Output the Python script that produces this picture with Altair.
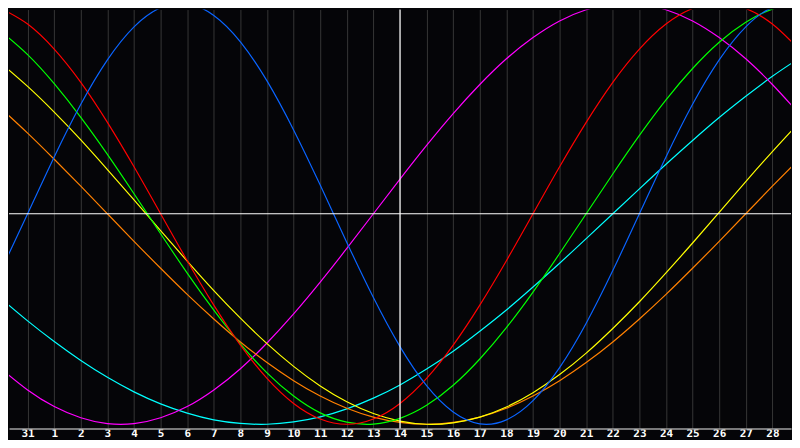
"""Biorhythm chart: seven cycles drawn over a 31-day window."""

import json

import altair as alt
import pandas as pd


# label under each day column, index 0 .. 30 (index 0 and 30 sit on the edges)
DAY_LABELS = [
    "30", "31", "1", "2", "3", "4", "5", "6", "7", "8", "9", "10", "11",
    "12", "13", "14", "15", "16", "17", "18", "19", "20", "21", "22", "23",
    "24", "25", "26", "27", "28", "29",
]
TODAY_INDEX = 15

# cycle values (-1 .. 1), one per day index
PHYSICAL = [
    -0.270, 0.000, 0.270, 0.520, 0.731, 0.888, 0.979, 0.998, 0.942, 0.817,
    0.631, 0.398, 0.136, -0.136, -0.398, -0.631, -0.817, -0.942, -0.998, -0.979,
    -0.888, -0.731, -0.520, -0.270, 0.000, 0.270, 0.520, 0.731, 0.888, 0.979,
    0.998,
]
EMOTIONAL = [
    0.975, 0.901, 0.782, 0.624, 0.434, 0.223, 0.000, -0.223, -0.434, -0.624,
    -0.782, -0.901, -0.975, -1.000, -0.975, -0.901, -0.782, -0.624, -0.434, -0.223,
    0.000, 0.223, 0.434, 0.624, 0.782, 0.901, 0.975, 1.000, 0.975, 0.901,
    0.782,
]
INTELLECTUAL = [
    0.866, 0.756, 0.618, 0.458, 0.282, 0.095, -0.095, -0.282, -0.458, -0.618,
    -0.756, -0.866, -0.946, -0.990, -0.999, -0.972, -0.910, -0.815, -0.690, -0.541,
    -0.372, -0.189, 0.000, 0.189, 0.372, 0.541, 0.690, 0.815, 0.910, 0.972,
    0.999,
]
INTUITIVE = [
    -0.736, -0.837, -0.916, -0.969, -0.997, -0.997, -0.969, -0.916, -0.837, -0.736,
    -0.614, -0.476, -0.325, -0.165, 0.000, 0.165, 0.325, 0.476, 0.614, 0.736,
    0.837, 0.916, 0.969, 0.997, 0.997, 0.969, 0.916, 0.837, 0.736, 0.614,
    0.476,
]
AESTHETIC = [
    0.715, 0.605, 0.483, 0.351, 0.210, 0.066, -0.080, -0.225, -0.365, -0.496,
    -0.617, -0.725, -0.818, -0.893, -0.949, -0.985, -1.000, -0.993, -0.966, -0.918,
    -0.850, -0.764, -0.662, -0.545, -0.418, -0.281, -0.139, 0.007, 0.153, 0.295,
    0.432,
]
AWARENESS = [
    0.500, 0.383, 0.259, 0.131, 0.000, -0.131, -0.259, -0.383, -0.500, -0.609,
    -0.707, -0.793, -0.866, -0.924, -0.966, -0.991, -1.000, -0.991, -0.966, -0.924,
    -0.866, -0.793, -0.707, -0.609, -0.500, -0.383, -0.259, -0.131, 0.000, 0.131,
    0.259,
]
SPIRITUAL = [
    -0.403, -0.509, -0.607, -0.697, -0.777, -0.846, -0.903, -0.947, -0.979, -0.996,
    -1.000, -0.989, -0.965, -0.927, -0.876, -0.813, -0.738, -0.653, -0.558, -0.457,
    -0.348, -0.235, -0.118, 0.000, 0.118, 0.235, 0.348, 0.457, 0.558, 0.653,
    0.738,
]

CYCLE_NAMES = [
    "Spiritual", "Intuitive", "Awareness", "Aesthetic",
    "Intellectual", "Emotional", "Physical",
]
CYCLE_COLORS = [
    "#00ffff", "#ff00ff", "#ff8000", "#ffff00",
    "#00ff00", "#ff0000", "#0a64ff",
]
CYCLE_VALUES = [
    SPIRITUAL, INTUITIVE, AWARENESS, AESTHETIC,
    INTELLECTUAL, EMOTIONAL, PHYSICAL,
]

rows = []
for name, values in zip(CYCLE_NAMES, CYCLE_VALUES):
    for day, value in enumerate(values):
        rows.append({"day": day, "value": value, "cycle": name})
df = pd.DataFrame(rows)

# the page keeps an 8px margin, so the view shows day 0.3 .. 29.7 only
x_scale = alt.Scale(domain=[0.3, 29.7], nice=False, zero=False)
y_scale = alt.Scale(domain=[-1.02, 0.97], nice=False, zero=False)

# labels sit a little high so the whole page stays within 448px
x_axis = alt.Axis(
    values=list(range(1, 30)),
    labelExpr=f"{json.dumps(DAY_LABELS)}[datum.value]",
    title=None,
    grid=True,
    gridColor="#363636",
    gridWidth=1,
    ticks=False,
    tickSize=0,
    domain=True,
    domainColor="#a0a0a0",
    domainWidth=1.5,
    labelColor="white",
    labelFont="DejaVu Sans Mono",
    labelFontWeight="bold",
    labelFontSize=11,
    labelPadding=8.5,
    labelBaseline="alphabetic",
    labelFlush=False,
    labelOverlap=False,
)

lines = (
    alt.Chart(df)
    .mark_line(interpolate="natural", strokeWidth=1.2, clip=True)
    .encode(
        x=alt.X("day:Q", scale=x_scale, axis=x_axis),
        y=alt.Y("value:Q", scale=y_scale, axis=None),
        color=alt.Color(
            "cycle:N",
            scale=alt.Scale(domain=CYCLE_NAMES, range=CYCLE_COLORS),
            legend=None,
        ),
        order=alt.Order("day:Q"),
    )
)

today = (
    alt.Chart(pd.DataFrame({"day": [TODAY_INDEX]}))
    .mark_rule(color="white", strokeWidth=1.2)
    .encode(x=alt.X("day:Q", scale=x_scale, axis=x_axis))
)

midline = (
    alt.Chart(pd.DataFrame({"value": [0]}))
    .mark_rule(color="white", strokeWidth=1.2)
    .encode(y=alt.Y("value:Q", scale=y_scale, axis=None))
)

chart = (
    alt.layer(lines, today, midline)
    .properties(width=784, height=420, padding=0, background="#050508")
    .configure_view(stroke=None, fill="#050508")
)

chart.save("out.html", embed_options={"renderer": "svg", "actions": False})
